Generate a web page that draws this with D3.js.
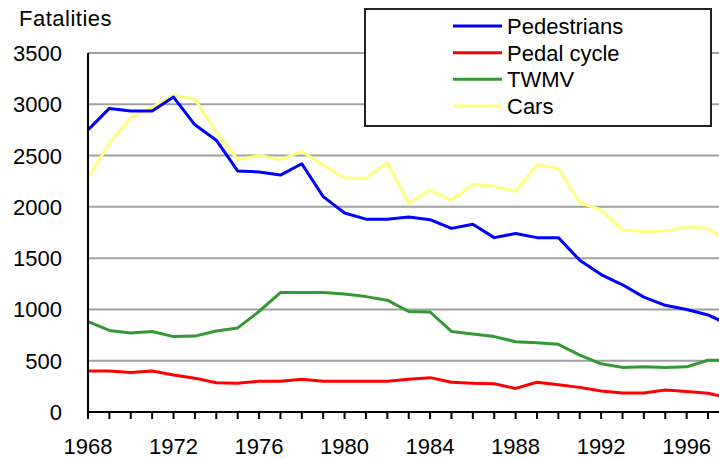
<!DOCTYPE html>
<html><head><meta charset="utf-8">
<script src="https://cdn.jsdelivr.net/npm/d3@7/dist/d3.min.js"></script>
<style>
html,body{margin:0;padding:0;background:#fff;}
svg{display:block;}
text{font-family:"Liberation Sans",Arial,sans-serif;fill:#000;}
</style></head>
<body>
<svg id="chart" width="719" height="459"></svg>
<script>
const years = d3.range(1968, 1999);
const pedestrians = [2750,2960,2935,2935,3070,2800,2650,2350,2340,2310,2420,2100,1940,1880,1880,1900,1875,1790,1830,1700,1740,1700,1700,1480,1340,1240,1120,1040,1000,946,850];
const pedalCycle = [400,400,385,400,360,330,285,280,300,300,320,300,300,300,300,320,335,290,280,275,230,290,265,240,205,185,185,215,200,183,135];
const twmv = [880,795,770,785,735,740,790,820,980,1165,1165,1165,1150,1125,1090,980,975,785,760,735,685,675,660,555,470,435,440,435,440,505,505];
const cars = [2280,2620,2870,2970,3090,3050,2730,2460,2500,2460,2540,2410,2280,2280,2430,2035,2165,2065,2220,2200,2150,2410,2375,2040,1970,1775,1760,1765,1805,1790,1660];
const seriesNames = ["Pedestrians","Pedal cycle","TWMV","Cars"];
const seriesColors = ["#0000ff","#ff0000","#339933","#ffff80"];
const yTicks = [0,500,1000,1500,2000,2500,3000,3500];
const xTickLabels = [1968,1972,1976,1980,1984,1988,1992,1996];
const yTitle = "Fatalities";

(function(){
const svg = d3.select("#chart");
const W = 719, H = 459;
const pLeft = 88, pRight = 719, pTop = 53, pBottom = 412;
const yearStep = 21.38;

const x = d3.scaleLinear().domain([1968, 1969]).range([pLeft, pLeft + yearStep]);
const y = d3.scaleLinear().domain([0, 3500]).range([pBottom, pTop]);

svg.append("g").selectAll("line").data(yTicks.filter(d => d > 0)).join("line")
  .attr("x1", pLeft).attr("x2", pRight)
  .attr("y1", d => y(d)).attr("y2", d => y(d))
  .attr("stroke", "#a0a0a0").attr("stroke-width", 2);

svg.append("g").selectAll("text").data(yTicks).join("text")
  .attr("x", 62).attr("y", d => y(d) + 8)
  .attr("text-anchor", "end").attr("font-size", 22)
  .text(d => d);

svg.append("text").attr("x", 19).attr("y", 26).attr("font-size", 22)
  .attr("letter-spacing", 0.5).text(yTitle);

const allSeries = [pedestrians, pedalCycle, twmv, cars];
const line = d3.line().x((d, i) => x(years[i])).y(d => y(d));
svg.append("defs").append("clipPath").attr("id", "clip")
  .append("rect").attr("x", pLeft).attr("y", 0).attr("width", pRight - pLeft).attr("height", H);
const lg = svg.append("g").attr("clip-path", "url(#clip)");
[3,2,1,0].forEach(k => {
  lg.append("path").datum(allSeries[k]).attr("d", line)
    .attr("fill", "none").attr("stroke", seriesColors[k]).attr("stroke-width", 3)
    .attr("stroke-linejoin", "round");
});

svg.append("line").attr("x1", pLeft).attr("x2", pLeft).attr("y1", pTop).attr("y2", pBottom + 1)
  .attr("stroke", "#000").attr("stroke-width", 2);
svg.append("line").attr("x1", pLeft - 1).attr("x2", pRight).attr("y1", pBottom).attr("y2", pBottom)
  .attr("stroke", "#000").attr("stroke-width", 2);
svg.append("g").selectAll("line").data(years.filter(v => x(v) <= pRight)).join("line")
  .attr("x1", d => x(d)).attr("x2", d => x(d))
  .attr("y1", pBottom).attr("y2", pBottom + 7)
  .attr("stroke", "#000").attr("stroke-width", 2);
svg.append("g").selectAll("text").data(xTickLabels).join("text")
  .attr("x", d => x(d)).attr("y", 454)
  .attr("text-anchor", "middle").attr("font-size", 22)
  .text(d => d);

const lgX = 365, lgY = 9, lgW = 346, lgH = 117;
svg.append("rect").attr("x", lgX).attr("y", lgY).attr("width", lgW).attr("height", lgH)
  .attr("fill", "#fff").attr("stroke", "#222").attr("stroke-width", 2);
seriesNames.forEach((name, i) => {
  const ly = 26 + i * 26.67;
  svg.append("line").attr("x1", 453).attr("x2", 502).attr("y1", ly).attr("y2", ly)
    .attr("stroke", seriesColors[i]).attr("stroke-width", 3);
  svg.append("text").attr("x", 507).attr("y", ly + 8).attr("font-size", 22).text(name);
});
})();
</script>
</body></html>
